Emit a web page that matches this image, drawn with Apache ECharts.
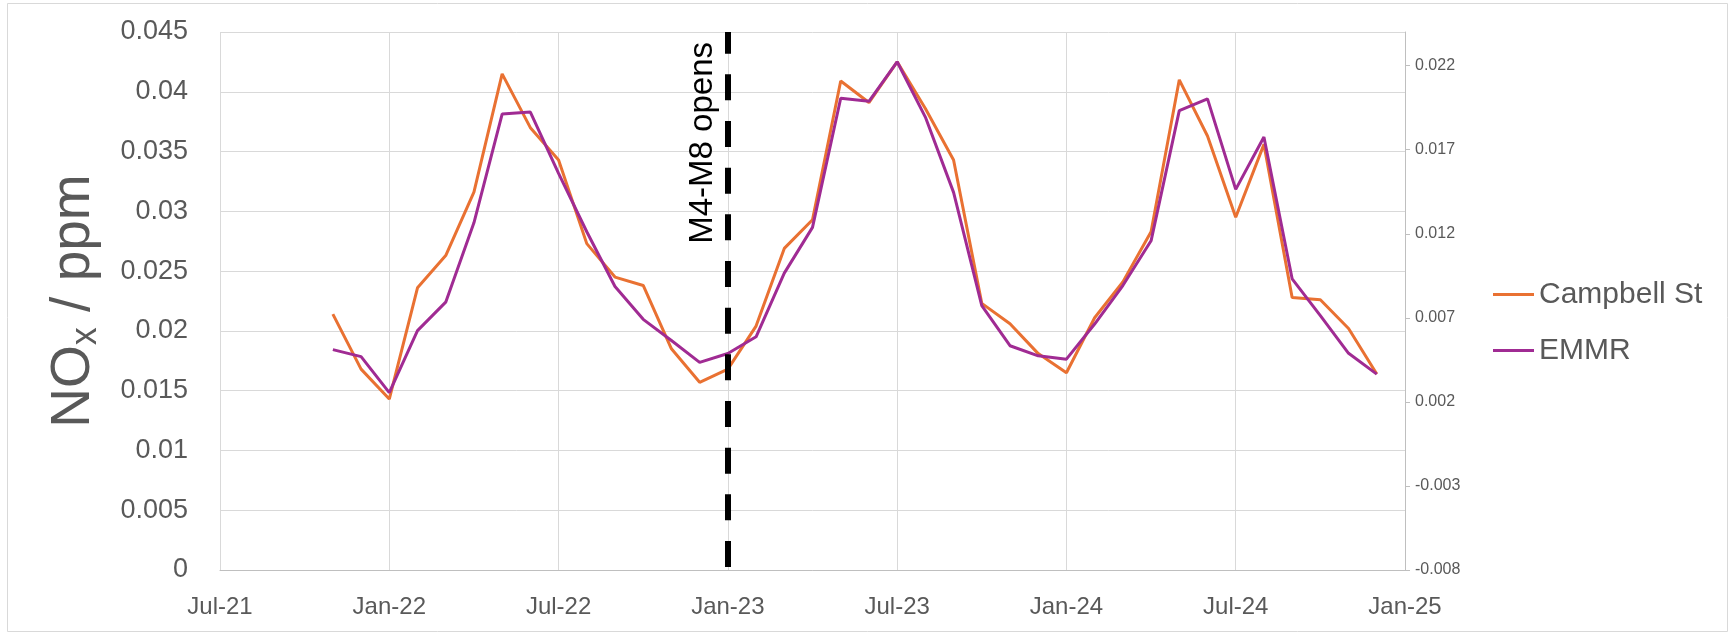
<!DOCTYPE html>
<html><head><meta charset="utf-8">
<script src="https://cdn.jsdelivr.net/npm/echarts@6.0.0/dist/echarts.min.js"></script>
<style>html,body{margin:0;padding:0;background:#fff}#c{width:1733px;height:633px}</style>
</head><body><div id="c"></div>
<script>
const months = ['Jul-21','Aug-21','Sep-21','Oct-21','Nov-21','Dec-21',
  'Jan-22','Feb-22','Mar-22','Apr-22','May-22','Jun-22','Jul-22','Aug-22','Sep-22','Oct-22','Nov-22','Dec-22',
  'Jan-23','Feb-23','Mar-23','Apr-23','May-23','Jun-23','Jul-23','Aug-23','Sep-23','Oct-23','Nov-23','Dec-23',
  'Jan-24','Feb-24','Mar-24','Apr-24','May-24','Jun-24','Jul-24','Aug-24','Sep-24','Oct-24','Nov-24','Dec-24',
  'Jan-25'];

// Campbell St (left axis, ppm)
const campbellSt = [null,null,null,null,
  0.0214,0.0168,
  0.0143,0.0236,0.0263,0.0316,0.0415,0.0370,0.0343,0.0273,0.0245,0.0238,0.0185,0.0157,
  0.0168,0.0204,0.0269,0.0293,0.0409,0.0391,0.0425,0.0386,0.0343,0.0223,0.0206,0.0181,
  0.0165,0.0211,0.0241,0.0283,0.0410,0.0363,0.0295,0.0356,0.0228,0.0226,0.0202,0.0164,
  null];

// EMMR (right axis)
const emmr = [null,null,null,null,
  0.00511,0.00469,
  0.00255,0.00624,0.00793,0.01265,0.01912,0.01924,0.01559,0.01212,0.00886,0.00691,0.00565,0.00435,
  0.00488,0.00587,0.00966,0.01238,0.02006,0.01988,0.02223,0.01894,0.01446,0.00773,0.00534,0.00474,
  0.00454,0.00663,0.00892,0.01158,0.01932,0.02002,0.01464,0.01775,0.00932,0.00713,0.00489,0.00365,
  null];

const seriesNames = ['Campbell St','EMMR'];
const eventMonth = 'Jan-23';
const eventLabel = 'M4-M8 opens';

const FONT = '"Liberation Sans", Arial, sans-serif';
const chart = echarts.init(document.getElementById('c'), null, {renderer:'canvas'});
chart.setOption({
  backgroundColor:'#fff',
  animation:false,
  graphic:[{type:'rect', shape:{x:7.5,y:3.5,width:1720,height:628}, style:{fill:'none', stroke:'#d9d9d9', lineWidth:1}, silent:true}],
  grid:{left:220,right:328,top:32,bottom:63},
  legend:{
    data:seriesNames, orient:'vertical', left:1488, top:272,
    icon:'rect', itemWidth:41, itemHeight:3, itemGap:21,
    textStyle:{fontSize:30, color:'#595959', fontFamily:FONT, lineHeight:35}
  },
  xAxis:{
    type:'category', data:months, boundaryGap:false,
    axisLine:{lineStyle:{color:'#bfbfbf', width:1}},
    axisTick:{show:false, interval:5},
    axisLabel:{interval:5, fontSize:24, color:'#595959', margin:25, fontFamily:FONT},
    splitLine:{show:true, interval:5, lineStyle:{color:'#d9d9d9', width:1}}
  },
  yAxis:[{
    type:'value', min:0, max:0.045, interval:0.005,
    axisLine:{show:false}, axisTick:{show:false},
    axisLabel:{fontSize:27, color:'#595959', margin:32, fontFamily:FONT},
    splitLine:{lineStyle:{color:'#d9d9d9', width:1}},
    name:'{a|NO}{b|x}{a| / ppm}', nameLocation:'middle', nameRotate:90, nameGap:116,
    nameTextStyle:{color:'#595959', fontFamily:FONT, rich:{
      a:{fontSize:55, color:'#595959', fontFamily:FONT, lineHeight:60},
      b:{fontSize:36, color:'#595959', fontFamily:FONT, lineHeight:60, verticalAlign:'bottom', padding:[22,0,0,0]}
    }}
  },{
    type:'value', position:'right', min:-0.008, max:0.024, interval:0.005,
    axisLine:{show:true, lineStyle:{color:'#bfbfbf', width:1}},
    axisTick:{show:true, length:5, lineStyle:{color:'#bfbfbf'}},
    axisLabel:{fontSize:16, color:'#595959', margin:10, fontFamily:FONT, showMaxLabel:false,
      formatter:function(v){ return (Math.round(v*1000)/1000).toFixed(3); }},
    splitLine:{show:false}
  }],
  series:[{
    name:seriesNames[0], type:'line', data:campbellSt, yAxisIndex:0,
    symbol:'none', lineStyle:{color:'#E97132', width:3}, itemStyle:{color:'#E97132'},
    connectNulls:false, z:3,
    markLine:{
      silent:true, symbol:['none','none'],
      data:[{xAxis:eventMonth}],
      lineStyle:{color:'#000', type:[26,20.67], dashOffset:43.67, width:6},
      label:{show:true, formatter:eventLabel, position:'insideEndTop', fontSize:33, color:'#000', fontFamily:FONT, distance:[10,8]}
    }
  },{
    name:seriesNames[1], type:'line', data:emmr, yAxisIndex:1,
    symbol:'none', lineStyle:{color:'#A02B93', width:3}, itemStyle:{color:'#A02B93'},
    connectNulls:false, z:4
  }]
});
</script></body></html>
